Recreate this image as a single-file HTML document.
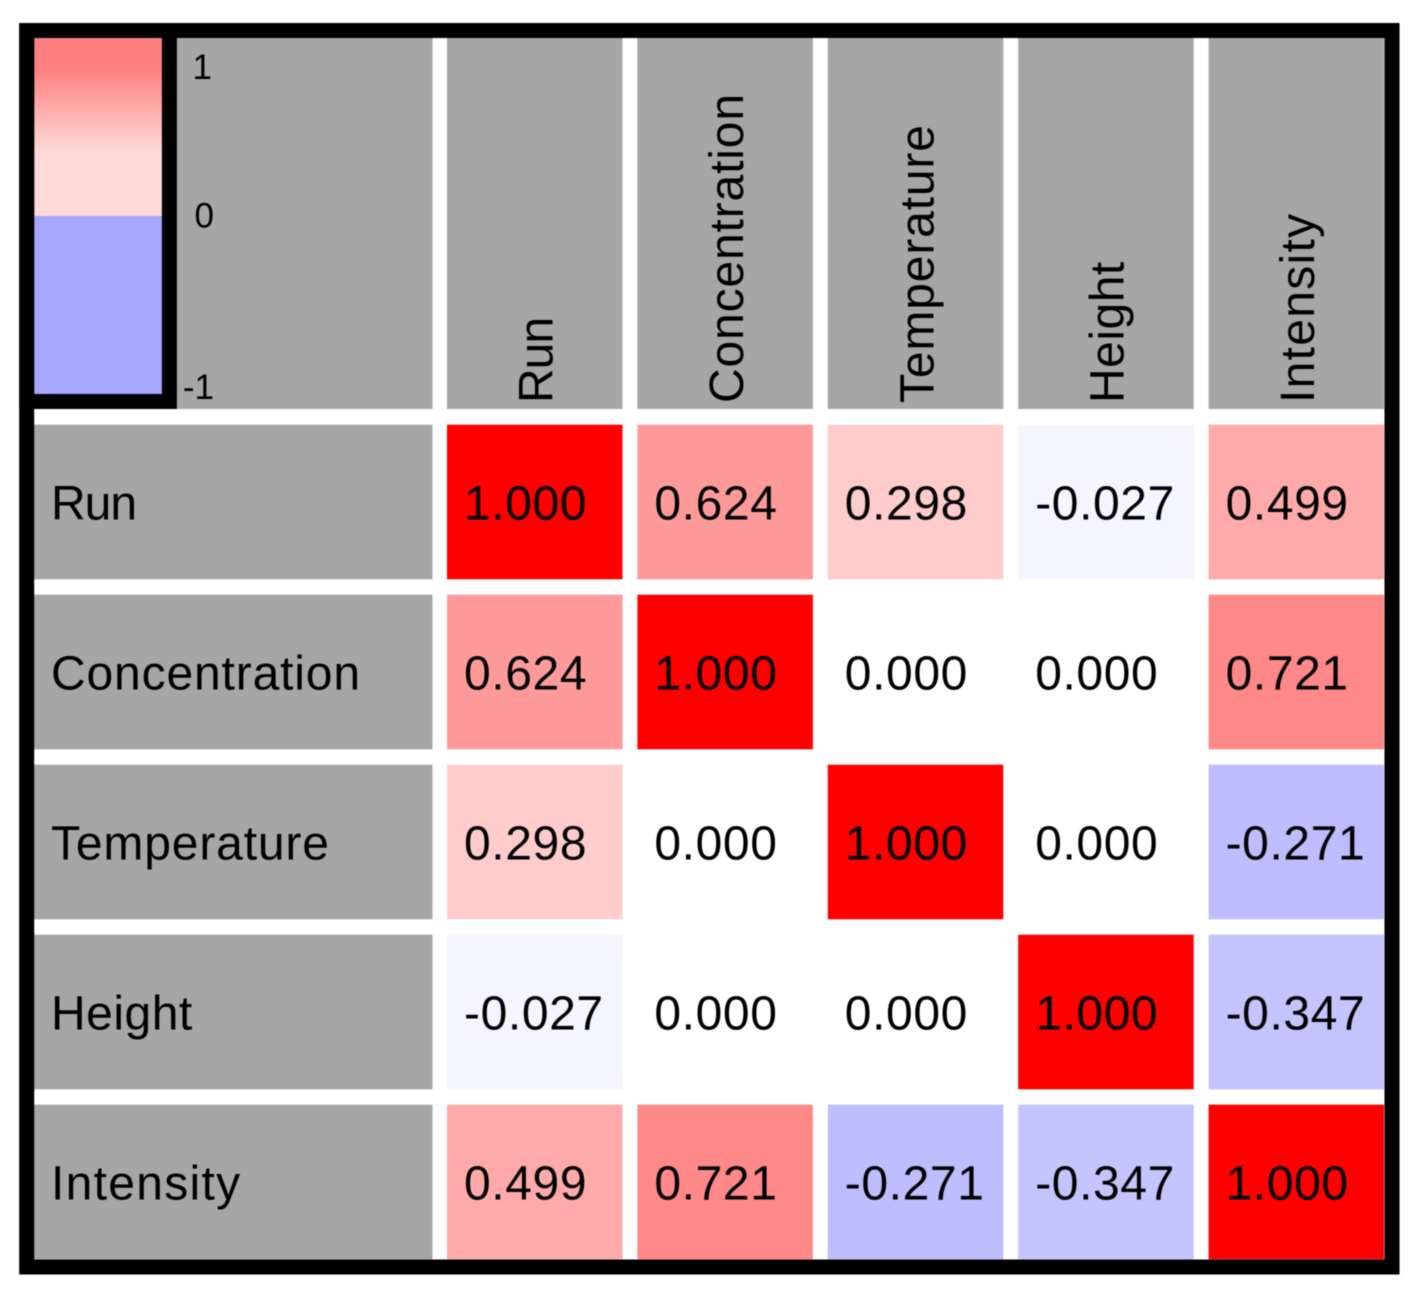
<!DOCTYPE html>
<html lang="en">
<head>
<meta charset="utf-8">
<title>Correlation matrix</title>
<style>
  html, body { margin: 0; padding: 0; background: #fff; }
  body { width: 1416px; height: 1296px; overflow: hidden; }
  svg { display: block; filter: blur(0.45px); }
  text { font-family: "Liberation Sans", sans-serif; fill: #000; }
  .val { font-size: 48px; letter-spacing: 0.6px; }
  .lab { font-size: 48px; }
  .tick { font-size: 35px; }
</style>
</head>
<body>
<svg id="chart" width="1416" height="1296" viewBox="0 0 1416 1296" xmlns="http://www.w3.org/2000/svg">
  <defs>
    <linearGradient id="legendGrad" x1="0" y1="38" x2="0" y2="394" gradientUnits="userSpaceOnUse">
      <stop offset="0" stop-color="#ff8080"/>
      <stop offset="0.085" stop-color="#ff8080"/>
      <stop offset="0.315" stop-color="#ffd8d8"/>
      <stop offset="0.5" stop-color="#ffd8d8"/>
      <stop offset="0.5" stop-color="#a6a6ff"/>
      <stop offset="1" stop-color="#a6a6ff"/>
    </linearGradient>
  </defs>
  <rect x="0" y="0" width="1416" height="1296" fill="#fff"/>
  <rect x="34" y="38" width="398.5" height="371" fill="#a6a6a6"/>
  <g id="cells"></g>
  <rect x="34" y="38" width="128" height="356" fill="url(#legendGrad)"/>
  <g id="legend-ticks"></g>
  <rect x="26.7" y="30.5" width="1365.3" height="1236.5" fill="none" stroke="#000" stroke-width="15"/>
  <rect x="26.7" y="30.5" width="142.7" height="371" fill="none" stroke="#000" stroke-width="15"/>
</svg>
<script>
const variables = ["Run", "Concentration", "Temperature", "Height", "Intensity"];
const rowRun = [1.000, 0.624, 0.298, -0.027, 0.499];
const rowConcentration = [0.624, 1.000, 0.000, 0.000, 0.721];
const rowTemperature = [0.298, 0.000, 1.000, 0.000, -0.271];
const rowHeight = [-0.027, 0.000, 0.000, 1.000, -0.347];
const rowIntensity = [0.499, 0.721, -0.271, -0.347, 1.000];
const matrix = [rowRun, rowConcentration, rowTemperature, rowHeight, rowIntensity];
const legendTickValues = [1, 0, -1];
const scaleMagnitudes = [0, 0.027, 0.271, 0.298, 0.347, 0.499, 0.624, 0.721, 1];
const scaleChannels = [255, 245, 189, 204, 196, 170, 154, 136, 0];

const SVG_NS = "http://www.w3.org/2000/svg";
const colX = i => 447 + i * 190.4;
const rowY = j => 424.7 + j * 170;
const cellW = 175.5;
const cellH = 154.6;
const legendY = v => 216.5 - v * (v > 0 ? 148.5 : 171.5);
const trackingFor = name => {
  if (name === "Run") return -1;
  if (name === "Height") return 0.5;
  if (name === "Intensity") return 1.3;
  return 0.85;
};

function channelFor(mag) {
  for (let k = 1; k < scaleMagnitudes.length; k++) {
    if (mag <= scaleMagnitudes[k]) {
      const a = scaleMagnitudes[k - 1], b = scaleMagnitudes[k];
      const t = (mag - a) / (b - a);
      return Math.round(scaleChannels[k - 1] + t * (scaleChannels[k] - scaleChannels[k - 1]));
    }
  }
  return 0;
}
function cellColor(v) {
  const c = channelFor(Math.min(1, Math.abs(v)));
  return v >= 0 ? `rgb(255,${c},${c})` : `rgb(${c},${c},255)`;
}
function make(tag, attrs, parent, content) {
  const el = document.createElementNS(SVG_NS, tag);
  for (const k in attrs) el.setAttribute(k, attrs[k]);
  if (content !== undefined) el.textContent = content;
  parent.appendChild(el);
  return el;
}

const grid = document.getElementById("cells");
variables.forEach((name, i) => {
  const slug = name.toLowerCase();
  const tracking = trackingFor(name) + "px";

  const headBg = make("rect", { x: colX(i), y: 38, width: cellW, height: 371, fill: "#a6a6a6" }, grid);
  
  

  const bx = colX(i) + 105.5;
  const head = make("text", { class: "lab", x: bx, y: 403, transform: `rotate(-90 ${bx} 403)`, "letter-spacing": tracking }, grid, name);
  
  

  const rowBg = make("rect", { x: 34, y: rowY(i), width: 398.5, height: cellH, fill: "#a6a6a6" }, grid);
  
  

  const rowLab = make("text", { class: "lab", x: 51, y: rowY(i) + 94.6, "letter-spacing": tracking }, grid, name);
  
  
});

matrix.forEach((row, j) => {
  row.forEach((v, i) => {
    const rect = make("rect", { x: colX(i), y: rowY(j), width: cellW, height: cellH, fill: cellColor(v) }, grid);
    
    

    const label = make("text", { class: "val", x: colX(i) + 17, y: rowY(j) + 94.6 }, grid, v.toFixed(3));
    
    
  });
});

const tickGroup = document.getElementById("legend-ticks");
legendTickValues.forEach(v => {
  const t = make("text", { class: "tick", "text-anchor": "end", x: v === 1 ? 212 : 214, y: legendY(v) + 11 }, tickGroup, String(v));
  
  
});
</script>
</body>
</html>
